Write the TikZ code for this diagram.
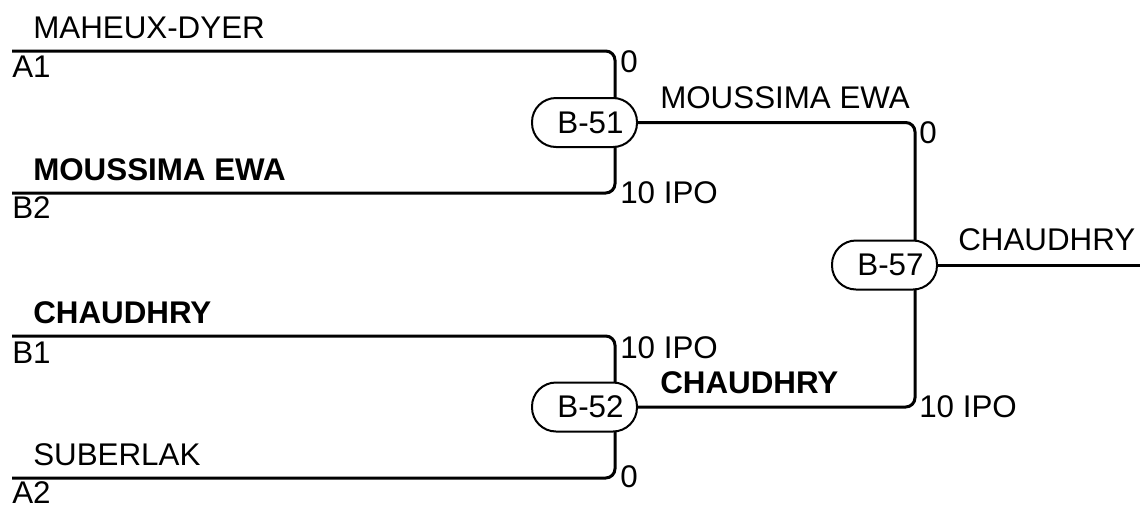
\documentclass[tikz,border=0pt]{standalone}
\usepackage{fontspec}
\setmainfont{Liberation Sans}
\usetikzlibrary{calc,backgrounds}
\begin{document}
\begin{tikzpicture}[x=0.75pt,y=-0.75pt,
  conn/.style={line width=2.25pt, rounded corners=7pt},
  match/.style={draw, line width=1.5pt, fill=white, rounded corners=18pt,
    minimum width=78.75pt, minimum height=36.75pt, inner sep=2pt,
    font=\fontsize{23.5}{28}\selectfont},
  lbl/.style={anchor=base west, inner sep=0pt, font=\fontsize{23.5}{28}\selectfont},
  blbl/.style={anchor=base west, inner sep=0pt, font=\fontsize{23.5}{28}\selectfont\bfseries}]
\useasboundingbox (0,0) rectangle (1140,508);
% match nodes
\node[match] (b51) at (584.5,122.5) {\hspace*{9pt}B-51};
\node[match] (b52) at (584.5,407) {\hspace*{9pt}B-52};
\node[match] (b57) at (884.5,265) {\hspace*{9pt}B-57};
% free line ends
\coordinate (a1) at (12,51);
\coordinate (b2) at (12,193);
\coordinate (b1) at (12,336);
\coordinate (a2) at (12,478);
\coordinate (out) at (1140,265);
\begin{scope}[on background layer]
\draw[conn] (a1) -| ($(b51.center)+(30.5,0)$);
\draw[conn] (b2) -| ($(b51.center)+(30.5,0)$);
\draw[conn] (b1) -| ($(b52.center)+(30.5,0)$);
\draw[conn] (a2) -| ($(b52.center)+(30.5,0)$);
\draw[conn] (b51.east) -| ($(b57.center)+(30.5,0)$);
\draw[conn] (b52.east) -| ($(b57.center)+(30.5,0)$);
\draw[conn] (b57.east) -- (out);
\end{scope}
% entrant names and seeds
\node[lbl]  (n1) at (33,38)  {MAHEUX-DYER};
\node[lbl]  (s1) at (12,77)  {A1};
\node[blbl] (n2) at (33,180) {MOUSSIMA EWA};
\node[lbl]  (s2) at (12,218) {B2};
\node[blbl] (n3) at (33,323) {CHAUDHRY};
\node[lbl]  (s3) at (12,363) {B1};
\node[lbl]  (n4) at (33,465) {SUBERLAK};
\node[lbl]  (s4) at (12,503) {A2};
% scores
\node[lbl] (sc1) at (620,72)  {0};
\node[lbl] (sc2) at (620,203) {10 IPO};
\node[lbl] (sc3) at (620,358) {10 IPO};
\node[lbl] (sc4) at (620,487) {0};
\node[lbl] (sc5) at (919,143) {0};
\node[lbl] (sc6) at (919,417) {10 IPO};
% winners
\node[lbl]  (w1) at (660,108) {MOUSSIMA EWA};
\node[blbl] (w2) at (660,393) {CHAUDHRY};
\node[lbl]  (w3) at (958,250) {CHAUDHRY};
\end{tikzpicture}
\end{document}
